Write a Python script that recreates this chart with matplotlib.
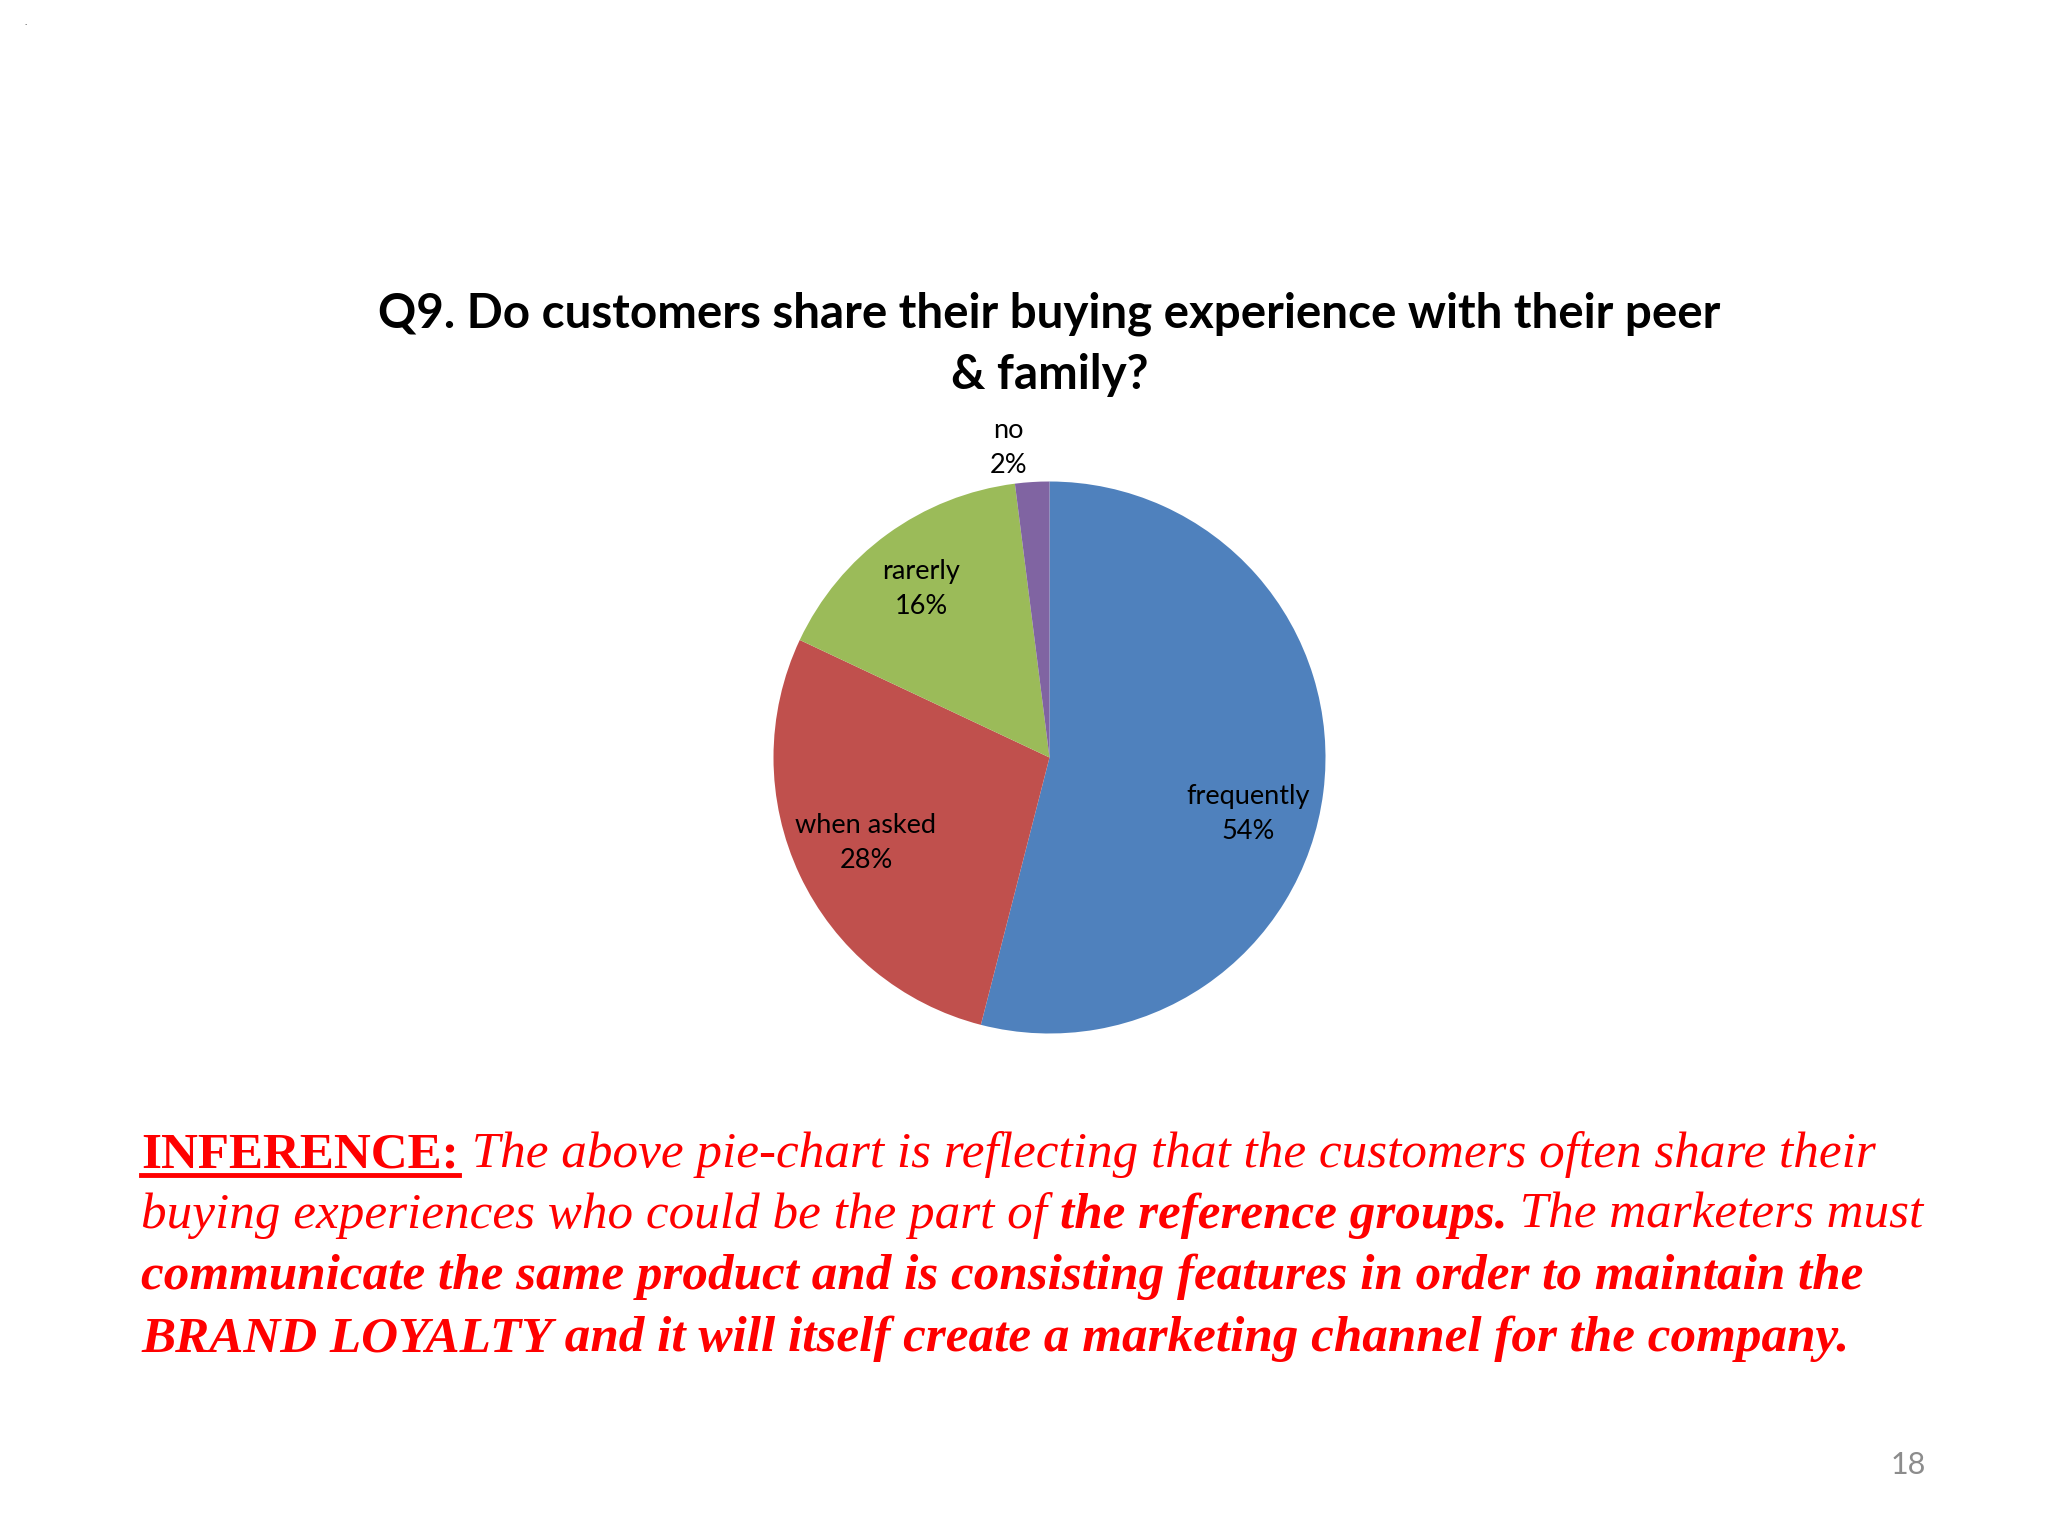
import matplotlib.pyplot as plt
from matplotlib.lines import Line2D

# data
categories = ["frequently", "when asked", "rarerly", "no"]
shares = [54, 28, 16, 2]
colors = ["#4F81BD", "#C0504D", "#9BBB59", "#8064A2"]

title_text = "Q9. Do customers share their buying experience with their peer\n& family?"

# label position inside the pie (units of radius, y up)
label_pos = [(0.72, -0.205), (-0.665, -0.31), (-0.465, 0.61), (-0.148, 1.12)]

# inference paragraph: (text, weight, style, underline)
inference_lines = [
    [("INFERENCE:", "bold", "normal", True),
     (" The above pie-chart is reflecting that the customers often share their", "normal", "italic", False)],
    [("buying experiences who could be the part of ", "normal", "italic", False),
     ("the reference groups.", "bold", "italic", False),
     (" The marketers must", "normal", "italic", False)],
    [("communicate the same product and is consisting features in order to maintain the", "bold", "italic", False)],
    [("BRAND LOYALTY", "bold", "italic", False),
     (" and it will itself create a marketing channel for the company.", "bold", "italic", False)],
]
page_number = "18"

W, H = 2048, 1536
fig = plt.figure(figsize=(W / 100, H / 100), dpi=100)
fig.patch.set_facecolor("white")

# pie: center (1049, 757) px, radius 276 px
cx, cy, r = 1049.5, 757.5, 276
ax = fig.add_axes([(cx - r) / W, (H - cy - r) / H, 2 * r / W, 2 * r / H])
ax.pie(shares, colors=colors, startangle=90, counterclock=False,
       wedgeprops=dict(linewidth=0))
ax.set_xlim(-1, 1)
ax.set_ylim(-1, 1)
ax.set_aspect("equal")
ax.axis("off")

for cat, val, (lx, ly) in zip(categories, shares, label_pos):
    ax.text(lx, ly, f"{cat}\n{val}%", ha="center", va="center", fontsize=19.5,
            family="Lato", color="black", linespacing=1.5)

# title
fig.text(cx / W, 1 - 327 / H, title_text.split("\n")[0], ha="center", va="baseline",
         fontsize=34.2, family="Lato", fontweight="bold")
fig.text(cx / W, 1 - 389 / H, title_text.split("\n")[1], ha="center", va="baseline",
         fontsize=34.2, family="Lato", fontweight="bold")

# inference paragraph
renderer = fig.canvas.get_renderer()
baselines = [1167, 1228, 1289, 1351]
x0 = 141
for segs, yb in zip(inference_lines, baselines):
    x = x0
    for txt, weight, style, underline in segs:
        t = fig.text(x / W, 1 - yb / H, txt, ha="left", va="baseline", fontsize=36.8,
                     family="Liberation Serif", fontweight=weight, fontstyle=style,
                     color="#FF0000")
        bb = t.get_window_extent(renderer)
        if underline:
            uy = 1 - (yb + 8) / H
            fig.add_artist(Line2D([bb.x0 / W, bb.x1 / W], [uy, uy], color="#FF0000",
                                  linewidth=3.5, transform=fig.transFigure))
        x = bb.x1

# page number
fig.text(1908 / W, 1 - 1465 / H, page_number, ha="center", va="center", fontsize=22,
         family="Lato", color="#8C8C8C")

fig.text(25 / W, 1 - 23 / H, ".", ha="center", va="center", fontsize=5, color="black")

fig.savefig("out.png", dpi=100, facecolor="white")
